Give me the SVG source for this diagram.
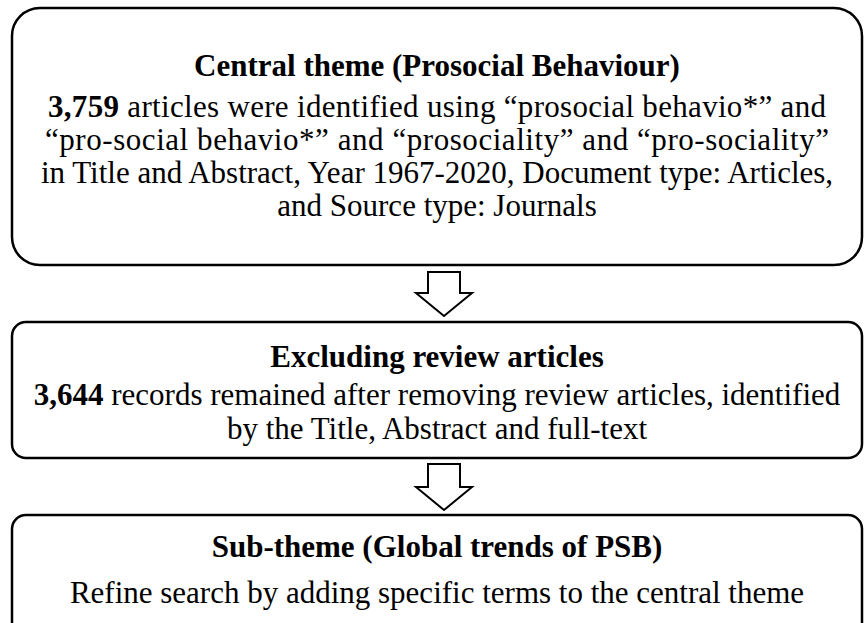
<svg xmlns="http://www.w3.org/2000/svg" width="865" height="623" viewBox="0 0 865 623">
<style>
.box{fill:#fff;stroke:#000;stroke-width:2.5}
.arr{fill:#fff;stroke:#000;stroke-width:2}
.t{font-size:31px;fill:#000;text-anchor:middle}
.b{font-weight:bold}
</style>
<rect width="865" height="623" fill="#fff"/>
<g id="central" font-family="Liberation Serif, Times New Roman, serif">
<rect class="box" x="12" y="8" width="850" height="257" rx="28" ry="28"/>
<text class="t b" x="437" y="76">Central theme (Prosocial Behaviour)</text>
<text class="t" x="437" y="117" textLength="778" lengthAdjust="spacing"><tspan class="b">3,759</tspan> articles were identified using “prosocial behavio*” and</text>
<text class="t" x="437" y="150" textLength="784" lengthAdjust="spacing">“pro-social behavio*” and “prosociality” and “pro-sociality”</text>
<text class="t" x="437" y="183">in Title and Abstract, Year 1967-2020, Document type: Articles,</text>
<text class="t" x="437" y="216">and Source type: Journals</text>
</g>
<g id="excluding" font-family="Liberation Serif, Times New Roman, serif">
<rect class="box" x="12" y="322" width="850" height="136" rx="14" ry="14"/>
<text class="t b" x="437" y="367">Excluding review articles</text>
<text class="t" x="437" y="405"><tspan class="b">3,644</tspan> records remained after removing review articles, identified</text>
<text class="t" x="437" y="439">by the Title, Abstract and full-text</text>
</g>
<g id="subtheme" font-family="Liberation Serif, Times New Roman, serif">
<rect class="box" x="12" y="515" width="850" height="130" rx="14" ry="14"/>
<text class="t b" x="437" y="557">Sub-theme (Global trends of PSB)</text>
<text class="t" x="437" y="603">Refine search by adding specific terms to the central theme</text>
</g>
<g id="connectors">
<path class="arr" d="M428 272 H460 V293 H472 L444 316 L416 293 H428 Z"/>
<path class="arr" d="M428 464 H460 V487 H472 L444 510 L416 487 H428 Z"/>
</g>
</svg>
